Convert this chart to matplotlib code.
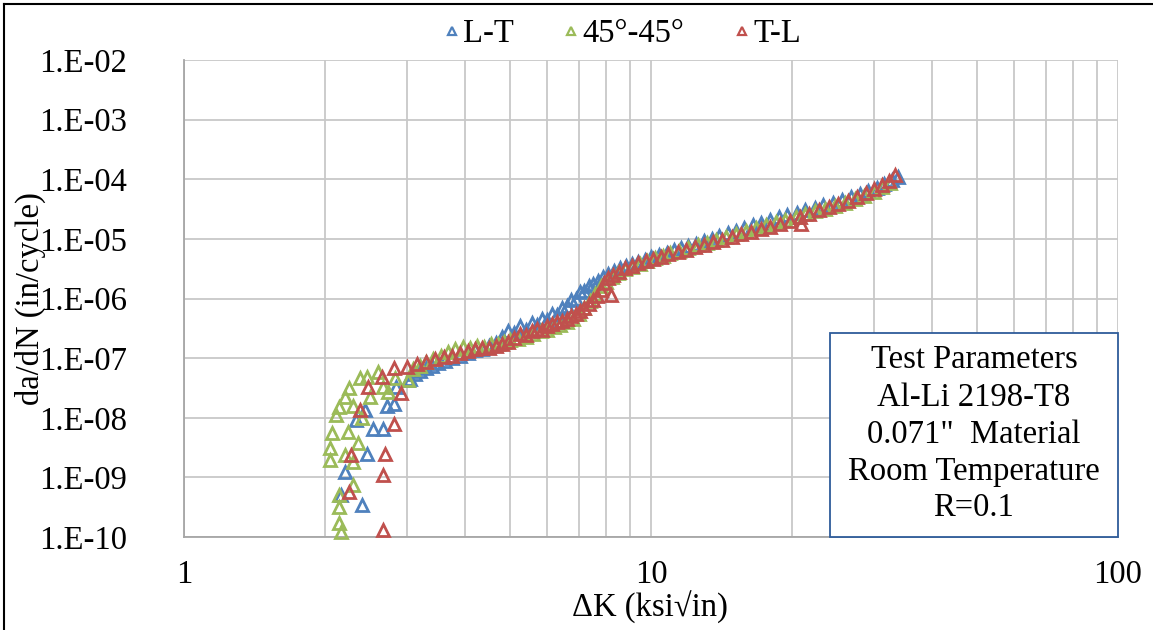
import matplotlib
matplotlib.use("Agg")
import matplotlib.pyplot as plt
from matplotlib.ticker import LogLocator, FixedLocator, FixedFormatter, NullFormatter
from matplotlib.lines import Line2D
from matplotlib.patches import Rectangle

plt.rcParams['font.family'] = ['Liberation Serif', 'DejaVu Serif']

# ---------------- data ----------------
series_names = ["L-T", "45°-45°", "T-L"]

lt_dk = [2.21, 2.17, 2.40, 2.46, 2.34, 2.44, 2.54, 2.67, 2.72, 2.81, 2.85, 3.02,
         3.05, 3.12, 3.2, 3.3, 3.4, 3.5, 3.62, 3.75, 3.9, 4.05, 4.2, 4.35, 4.5, 4.65,
         4.8, 4.95, 5.1, 5.25, 5.4, 5.55, 5.7, 5.85, 6.0, 6.15, 6.3, 6.45, 6.6, 6.75,
         6.9, 7.05, 7.2, 7.35, 7.5, 7.7, 7.9, 8.1, 8.35, 8.6, 8.85, 9.1, 9.4, 9.7,
         10.0, 10.4, 10.8, 11.2, 11.6, 12.0, 12.5, 13.0, 13.5, 14.0, 14.6, 15.2, 15.8,
         16.5, 17.2, 18.0, 18.8, 19.6, 20.5, 21.4, 22.4, 23.4, 24.5, 25.6, 26.8, 28.0,
         29.2, 30.4, 31.6, 32.8, 33.8]
lt_dadn = [1.25e-9, 5.0e-10, 3.4e-10, 2.5e-9, 9.1e-9, 1.35e-8, 6.6e-9, 6.6e-9, 1.6e-8,
           1.7e-8, 3.3e-8, 4.3e-8,
           4.5e-8, 5.5e-8, 6.0e-8, 6.8e-8, 7.5e-8, 8.2e-8, 9.0e-8, 1.0e-7, 1.1e-7, 1.2e-7,
           1.35e-7, 1.45e-7, 1.6e-7, 1.8e-7, 2.3e-7, 2.9e-7, 2.6e-7, 3.4e-7, 3.0e-7,
           3.9e-7, 3.6e-7, 4.5e-7, 4.3e-7, 5.6e-7, 5.3e-7, 7.0e-7, 7.5e-7, 9.5e-7,
           1.0e-6, 1.3e-6, 1.35e-6, 1.6e-6, 1.75e-6, 2.0e-6, 2.3e-6, 2.6e-6, 2.9e-6,
           3.2e-6, 3.5e-6, 3.8e-6, 4.1e-6, 4.5e-6, 4.9e-6, 5.3e-6, 5.8e-6, 6.6e-6,
           6.9e-6, 7.6e-6, 8.2e-6, 9.3e-6, 1.0e-5, 1.1e-5, 1.25e-5, 1.35e-5, 1.5e-5,
           1.7e-5, 1.85e-5, 2.05e-5, 2.3e-5, 2.5e-5, 2.75e-5, 3.0e-5, 3.3e-5, 3.7e-5,
           4.0e-5, 4.5e-5, 5.0e-5, 5.7e-5, 6.4e-5, 7.2e-5, 8.3e-5, 9.6e-5, 1.1e-4]

g45_dk = [2.07, 2.05, 2.05, 2.12, 2.15, 2.21, 2.26, 2.38, 2.47, 2.60, 2.24, 2.30,
          2.41, 2.50, 2.36, 2.21, 2.30, 2.30, 2.15, 2.15, 2.15, 2.17, 2.67, 2.73,
          2.83, 3.02,
          3.1, 3.2, 3.3, 3.42, 3.55, 3.68, 3.8, 3.95, 4.1, 4.25, 4.4, 4.55, 4.7, 4.85,
          5.0, 5.2, 5.4, 5.6, 5.8, 6.0, 6.2, 6.4, 6.6, 6.8, 7.0, 7.2, 7.4, 7.6, 7.8,
          8.0, 8.25, 8.5, 8.8, 9.1, 9.45, 9.8, 10.2, 10.6, 11.0, 11.5, 12.0, 12.6,
          13.2, 13.8, 14.5, 15.2, 16.0, 16.8, 17.6, 18.5, 19.4, 20.4, 21.4, 22.5,
          23.6, 24.8, 26.0, 27.3, 28.6, 30.0, 31.3, 32.5]
g45_dadn = [5.5e-9, 3.05e-9, 1.95e-9, 1.1e-8, 1.5e-8, 2.2e-8, 3.1e-8, 4.6e-8, 4.9e-8,
            5.9e-8, 5.8e-9, 1.6e-8, 9.8e-9, 2.2e-8, 3.7e-9, 2.4e-9, 1.8e-9, 7.4e-10,
            5.0e-10, 3.2e-10, 1.7e-10, 1.2e-10, 3.3e-8, 2.7e-8, 4.6e-8, 4.3e-8,
            6.5e-8, 7.5e-8, 8.5e-8, 9.5e-8, 1.1e-7, 1.25e-7, 1.4e-7, 1.55e-7, 1.5e-7,
            1.6e-7, 1.55e-7, 1.7e-7, 1.75e-7, 1.9e-7, 2.0e-7, 2.1e-7, 2.3e-7, 2.5e-7,
            2.8e-7, 3.0e-7, 3.3e-7, 3.6e-7, 4.0e-7, 4.6e-7, 5.5e-7, 7.0e-7, 9.0e-7,
            1.2e-6, 1.6e-6, 1.9e-6, 2.3e-6, 2.7e-6, 3.1e-6, 3.4e-6, 3.8e-6, 4.2e-6,
            4.7e-6, 5.2e-6, 5.7e-6, 6.3e-6, 7.0e-6, 7.8e-6, 8.6e-6, 9.5e-6, 1.08e-5,
            1.2e-5, 1.35e-5, 1.5e-5, 1.68e-5, 1.9e-5, 2.1e-5, 2.35e-5, 2.6e-5, 2.9e-5,
            3.2e-5, 3.6e-5, 4.0e-5, 4.6e-5, 5.3e-5, 6.2e-5, 7.3e-5, 8.6e-5]

tl_dk = [2.48, 2.38, 2.28, 2.26, 2.69, 2.81, 2.67, 2.67, 2.92, 2.65, 2.81, 3.0, 3.15,
         3.3, 3.45, 3.6, 3.75, 3.9, 4.05, 4.2, 4.35, 4.5, 4.65, 4.8, 4.95, 5.1, 5.25,
         5.4, 5.55, 5.7, 5.85, 6.0, 6.15, 6.3, 6.45, 6.6, 6.75, 6.9, 7.05, 7.2, 7.35,
         7.5, 7.65, 7.8, 7.95, 8.1, 8.2, 8.3, 8.55, 8.8, 9.1, 9.4, 9.75, 10.1, 10.5,
         10.9, 11.4, 11.9, 12.4, 13.0, 13.6, 14.2, 14.9, 15.6, 16.4, 17.2, 18.0, 18.9,
         19.8, 20.8, 21.0, 21.8, 22.9, 24.0, 25.2, 26.4, 27.6, 28.8, 30.0, 31.2, 32.3,
         33.3]
tl_dadn = [3.3e-8, 1.35e-8, 2.35e-9, 5.7e-10, 2.5e-9, 8.0e-9, 1.1e-9, 1.3e-10, 2.6e-8,
           4.9e-8, 6.7e-8, 7.1e-8, 8.1e-8,
           8.5e-8, 9.5e-8, 1.05e-7, 1.1e-7, 1.2e-7, 1.3e-7, 1.4e-7, 1.5e-7, 1.5e-7,
           1.6e-7, 1.7e-7, 1.9e-7, 2.2e-7, 2.5e-7, 2.4e-7, 2.8e-7, 3.1e-7, 3.0e-7,
           3.4e-7, 3.7e-7, 4.0e-7, 4.2e-7, 4.6e-7, 5.0e-7, 5.5e-7, 6.2e-7, 7.0e-7,
           8.0e-7, 9.5e-7, 1.1e-6, 1.4e-6, 1.8e-6, 2.2e-6, 1.15e-6, 2.5e-6, 2.8e-6,
           3.2e-6, 3.5e-6, 3.9e-6, 4.2e-6, 4.6e-6, 5.0e-6, 5.5e-6, 6.0e-6, 6.6e-6,
           7.2e-6, 8.0e-6, 8.8e-6, 9.6e-6, 1.08e-5, 1.2e-5, 1.3e-5, 1.45e-5, 1.6e-5,
           1.8e-5, 2.0e-5, 2.3e-5, 1.8e-5, 2.6e-5, 3.0e-5, 3.4e-5, 3.8e-5, 4.3e-5,
           5.0e-5, 5.8e-5, 6.8e-5, 8.0e-5, 9.5e-5, 1.2e-4]

y_tick_vals = [1e-10, 1e-9, 1e-8, 1e-7, 1e-6, 1e-5, 1e-4, 1e-3, 1e-2]
y_tick_labels = ["1.E-10", "1.E-09", "1.E-08", "1.E-07", "1.E-06", "1.E-05",
                 "1.E-04", "1.E-03", "1.E-02"]
x_tick_vals = [1, 10, 100]
x_tick_labels = ["1", "10", "100"]

box_lines = ["Test Parameters", "Al-Li 2198-T8", "0.071\"  Material",
             "Room Temperature", "R=0.1"]

colors = ["#4F81BD", "#9BBB59", "#C0504D"]

# ---------------- figure ----------------
W, H = 1153, 630
FS = 23.5
fig = plt.figure(figsize=(W / 100, H / 100), dpi=100)
L, R, T, B = 184, 1118, 60, 537
ax = fig.add_axes([L / W, 1 - B / H, (R - L) / W, (B - T) / H])

ax.set_xscale('log')
ax.set_yscale('log')
ax.set_xlim(1, 100)
ax.set_ylim(1e-10, 1e-2)

grid_c = "#C8C8C8"
ax.xaxis.set_major_locator(FixedLocator(x_tick_vals))
ax.xaxis.set_major_formatter(FixedFormatter(x_tick_labels))
ax.xaxis.set_minor_locator(LogLocator(base=10, subs=range(2, 10)))
ax.xaxis.set_minor_formatter(NullFormatter())
ax.yaxis.set_major_locator(FixedLocator(y_tick_vals))
ax.yaxis.set_major_formatter(FixedFormatter(y_tick_labels))
ax.yaxis.set_minor_locator(LogLocator(base=10, subs=range(2, 10)))
ax.yaxis.set_minor_formatter(NullFormatter())

ax.grid(which='major', axis='both', color=grid_c, lw=1.3)
ax.grid(which='minor', axis='x', color=grid_c, lw=1.3)
ax.set_axisbelow(True)

ax.tick_params(axis='x', which='both', length=0, pad=16, labelsize=FS)
ax.tick_params(axis='y', which='major', length=0, pad=41, labelsize=FS)
ax.tick_params(axis='y', which='minor', direction='in', length=6, width=1,
               color="#A0A0A0", left=True)
for s in ['top', 'right']:
    ax.spines[s].set_visible(False)
for s in ['left', 'bottom']:
    ax.spines[s].set_color("#A6A6A6")
    ax.spines[s].set_linewidth(1.3)

for dk, dadn, c, name in zip([lt_dk, g45_dk, tl_dk], [lt_dadn, g45_dadn, tl_dadn],
                             colors, series_names):
    ax.plot(dk, dadn, linestyle='none', marker='^', markersize=9,
            markerfacecolor='none', markeredgecolor=c, markeredgewidth=2.0,
            label=name, clip_on=False, zorder=3)

ax.set_xlabel("ΔK (ksi√in)", fontsize=FS)
ax.set_ylabel("da/dN (in/cycle)", fontsize=FS)
ax.xaxis.set_label_coords((650 - L) / (R - L), -(591 - B) / (B - T))
ax.yaxis.set_label_coords(-(184 - 46) / (R - L), 0.5)

handles = [Line2D([], [], linestyle='none', marker='^', markersize=6,
                  markerfacecolor='none', markeredgecolor=c, markeredgewidth=1.6)
           for c in colors]
fig.legend(handles, series_names, loc='center', ncol=3,
           bbox_to_anchor=(623 / W, 1 - 34 / H), frameon=False, fontsize=FS,
           handlelength=0.4, handletextpad=0.15, columnspacing=1.55)

# parameters box
bx0, bx1, by0, by1 = 830, 1118, 333, 537
fig.patches.append(Rectangle((bx0 / W, 1 - by1 / H), (bx1 - bx0) / W, (by1 - by0) / H,
                             transform=fig.transFigure, facecolor='white',
                             edgecolor="#2E5C9A", lw=1.3, zorder=5))
line_y = [360, 398, 435, 472, 508]
for txt, yy in zip(box_lines, line_y):
    fig.text((bx0 + bx1) / 2 / W, 1 - yy / H, txt, ha='center', va='center',
             fontsize=FS, zorder=6)

# outer border (top and left visible)
fig.add_artist(Line2D([4 / W, 4 / W], [0, 1 - 4 / H], transform=fig.transFigure,
                      color='black', lw=1.5))
fig.add_artist(Line2D([4 / W, 1], [1 - 4 / H, 1 - 4 / H], transform=fig.transFigure,
                      color='black', lw=1.5))

fig.savefig("out.png", dpi=100)
